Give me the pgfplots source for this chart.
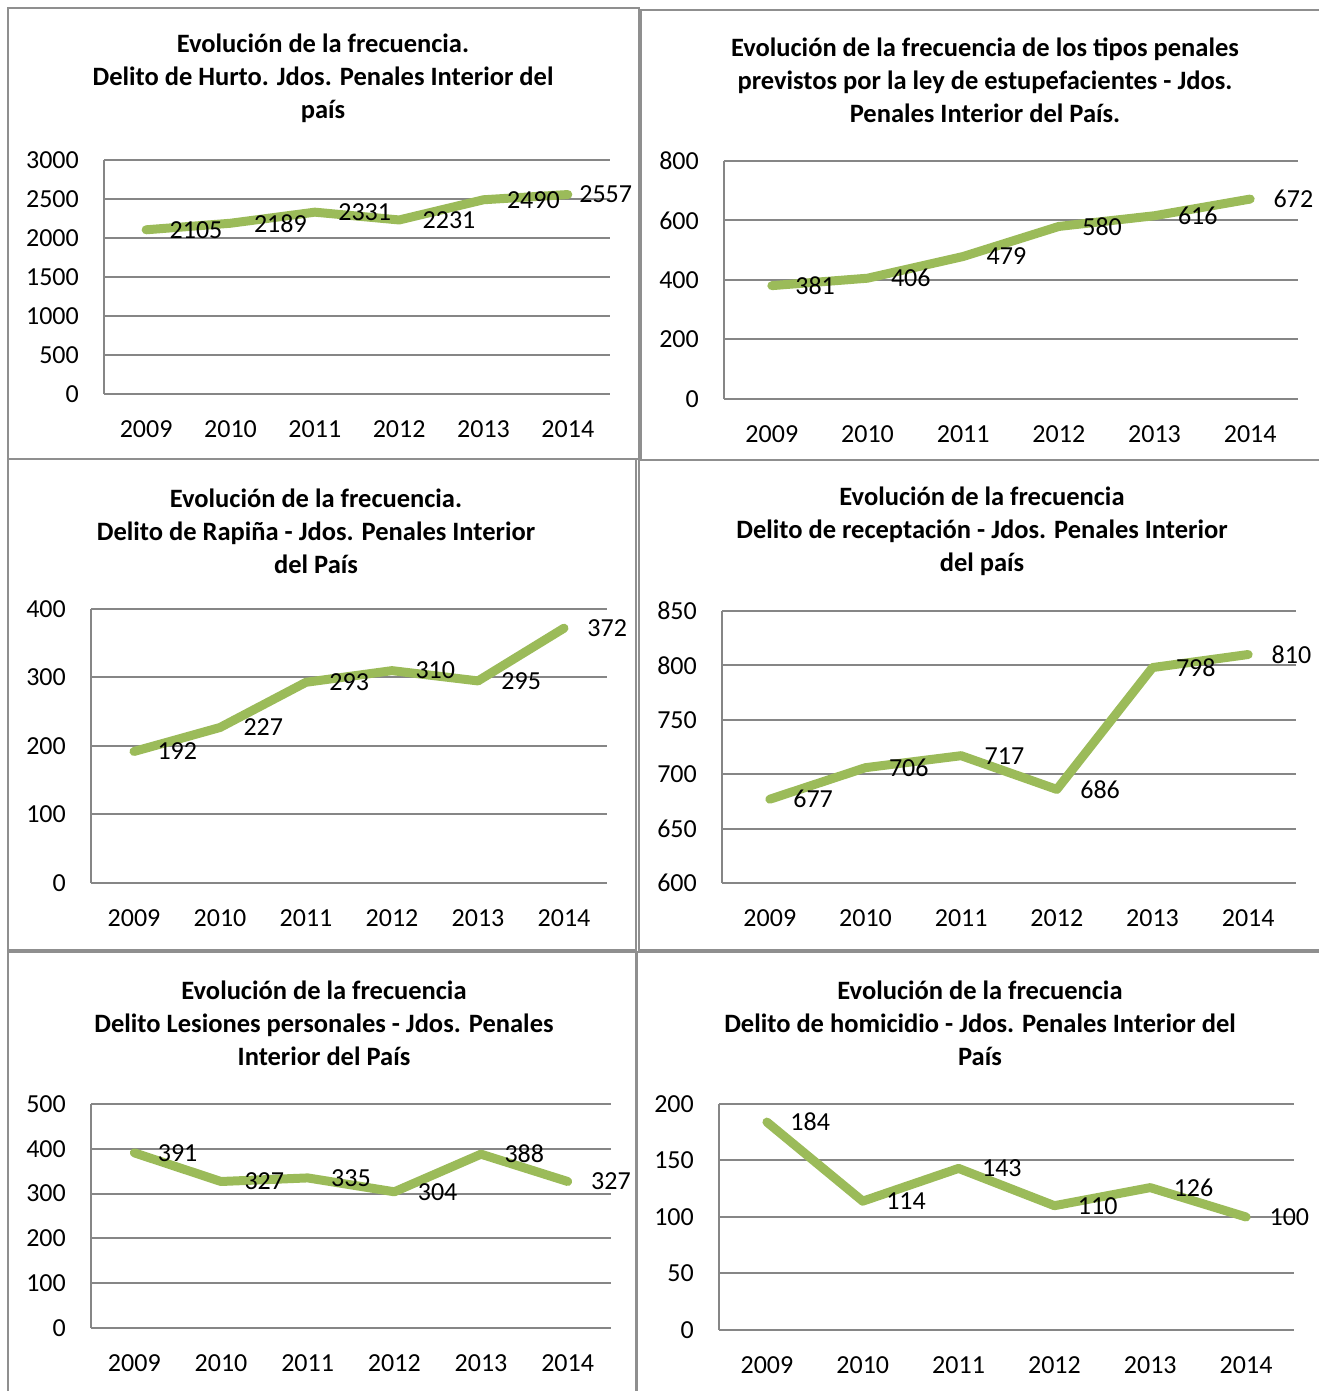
\documentclass[border=0pt]{standalone}
\usepackage{fontspec}
\setmainfont{Carlito}
\usepackage{pgfplots}
\pgfplotsset{compat=1.18}

\definecolor{lineg}{HTML}{9BBB59}
\definecolor{gridg}{HTML}{868686}
\definecolor{boxg}{HTML}{8F8F8F}
\newcommand\numfont{\fontsize{26}{31}\selectfont}
\newcommand\titlefont{\fontsize{26.5}{33}\selectfont\bfseries}

\pgfplotsset{
  panel/.style={
    scale only axis, anchor=south west, clip=false,
    xmin=-0.5, xmax=5.5, xtick={0,...,5},
    xticklabels={2009,2010,2011,2012,2013,2014},
    axis lines*=left, axis line style={draw=gridg, line width=2pt, -},
    major tick length=0pt, ymajorgrids,
    grid style={draw=gridg, line width=2pt},
    tick label style={font=\numfont, inner sep=0pt},
    yticklabel style={anchor=east, xshift=-25pt},
    xticklabel style={anchor=north, yshift=-26pt},
    /pgf/number format/assume math mode=true,
    /pgf/number format/1000 sep={},
    nodes near coords,
    every node near coord/.append style={anchor=west, inner sep=0pt, xshift=19pt, font=\numfont, text=black},
  },
  serie/.style={lineg, line width=9pt, line join=round, line cap=round, mark=none},
}

\begin{document}
\begin{tikzpicture}[x=1pt, y=1pt]

% Hurto (the last label sits closer to its point, as in the original)
\begin{axis}[panel, at={(104pt,997pt)}, width=506pt, height=234pt,
  ymin=0, ymax=3000, ytick={0,500,...,3000},
  nodes near coords={\ifnum\coordindex=5\hspace*{-12pt}\fi\pgfmathprintnumber{\pgfplotspointmeta}}]
\addplot[serie] coordinates {(0,2105) (1,2189) (2,2331) (3,2231) (4,2490) (5,2557)};
\end{axis}

% estupefacientes
\begin{axis}[panel, at={(724pt,992pt)}, width=574pt, height=238pt,
  ymin=0, ymax=800, ytick={0,200,...,800}]
\addplot[serie] coordinates {(0,381) (1,406) (2,479) (3,580) (4,616) (5,672)};
\end{axis}

% Rapiña
\begin{axis}[panel, at={(91pt,508pt)}, width=516pt, height=274pt,
  ymin=0, ymax=400, ytick={0,100,...,400}]
\addplot[serie] coordinates {(0,192) (1,227) (2,293) (3,310) (4,295) (5,372)};
\end{axis}

% receptación
\begin{axis}[panel, at={(722pt,508pt)}, width=574pt, height=272pt,
  ymin=600, ymax=850, ytick={600,650,...,850}]
\addplot[serie] coordinates {(0,677) (1,706) (2,717) (3,686) (4,798) (5,810)};
\end{axis}

% Lesiones personales
\begin{axis}[panel, at={(91pt,63pt)}, width=520pt, height=224pt,
  ymin=0, ymax=500, ytick={0,100,...,500}]
\addplot[serie] coordinates {(0,391) (1,327) (2,335) (3,304) (4,388) (5,327)};
\end{axis}

% homicidio
\begin{axis}[panel, at={(719pt,61pt)}, width=575pt, height=226pt,
  ymin=0, ymax=200, ytick={0,50,...,200}]
\addplot[serie] coordinates {(0,184) (1,114) (2,143) (3,110) (4,126) (5,100)};
\end{axis}

% panel frames
\draw[boxg, line width=2pt] (8,1383) rectangle (639,932);
\draw[boxg, line width=2pt] (641,1381) rectangle (1320,931);
\draw[boxg, line width=2pt] (8,932) rectangle (636,441);
\draw[boxg, line width=2pt] (639,931) rectangle (1320,441);
\draw[boxg, line width=2pt] (8,439) rectangle (636,-5);
\draw[boxg, line width=2pt] (637,439) rectangle (1320,-5);

% titles
\node[align=center, font=\titlefont] at (323,1313) {Evolución de la frecuencia.\\Delito de Hurto. Jdos. Penales Interior del\\país};
\node[align=center, font=\titlefont] at (985,1311) {Evolución de la frecuencia de los tipos penales\\previstos por la ley de estupefacientes - Jdos.\\Penales Interior del País.};
\node[align=center, font=\titlefont] at (316,860) {Evolución de la frecuencia.\\Delito de Rapiña - Jdos. Penales Interior\\del País};
\node[align=center, font=\titlefont] at (982,860) {Evolución de la frecuencia\\Delito de receptación - Jdos. Penales Interior\\del país};
\node[align=center, font=\titlefont] at (324,368) {Evolución de la frecuencia\\Delito Lesiones personales - Jdos. Penales\\Interior del País};
\node[align=center, font=\titlefont] at (980,368) {Evolución de la frecuencia\\Delito de homicidio - Jdos. Penales Interior del\\País};

\pgfresetboundingbox
\useasboundingbox (0,0) rectangle (1318,1391);
\end{tikzpicture}
\end{document}
